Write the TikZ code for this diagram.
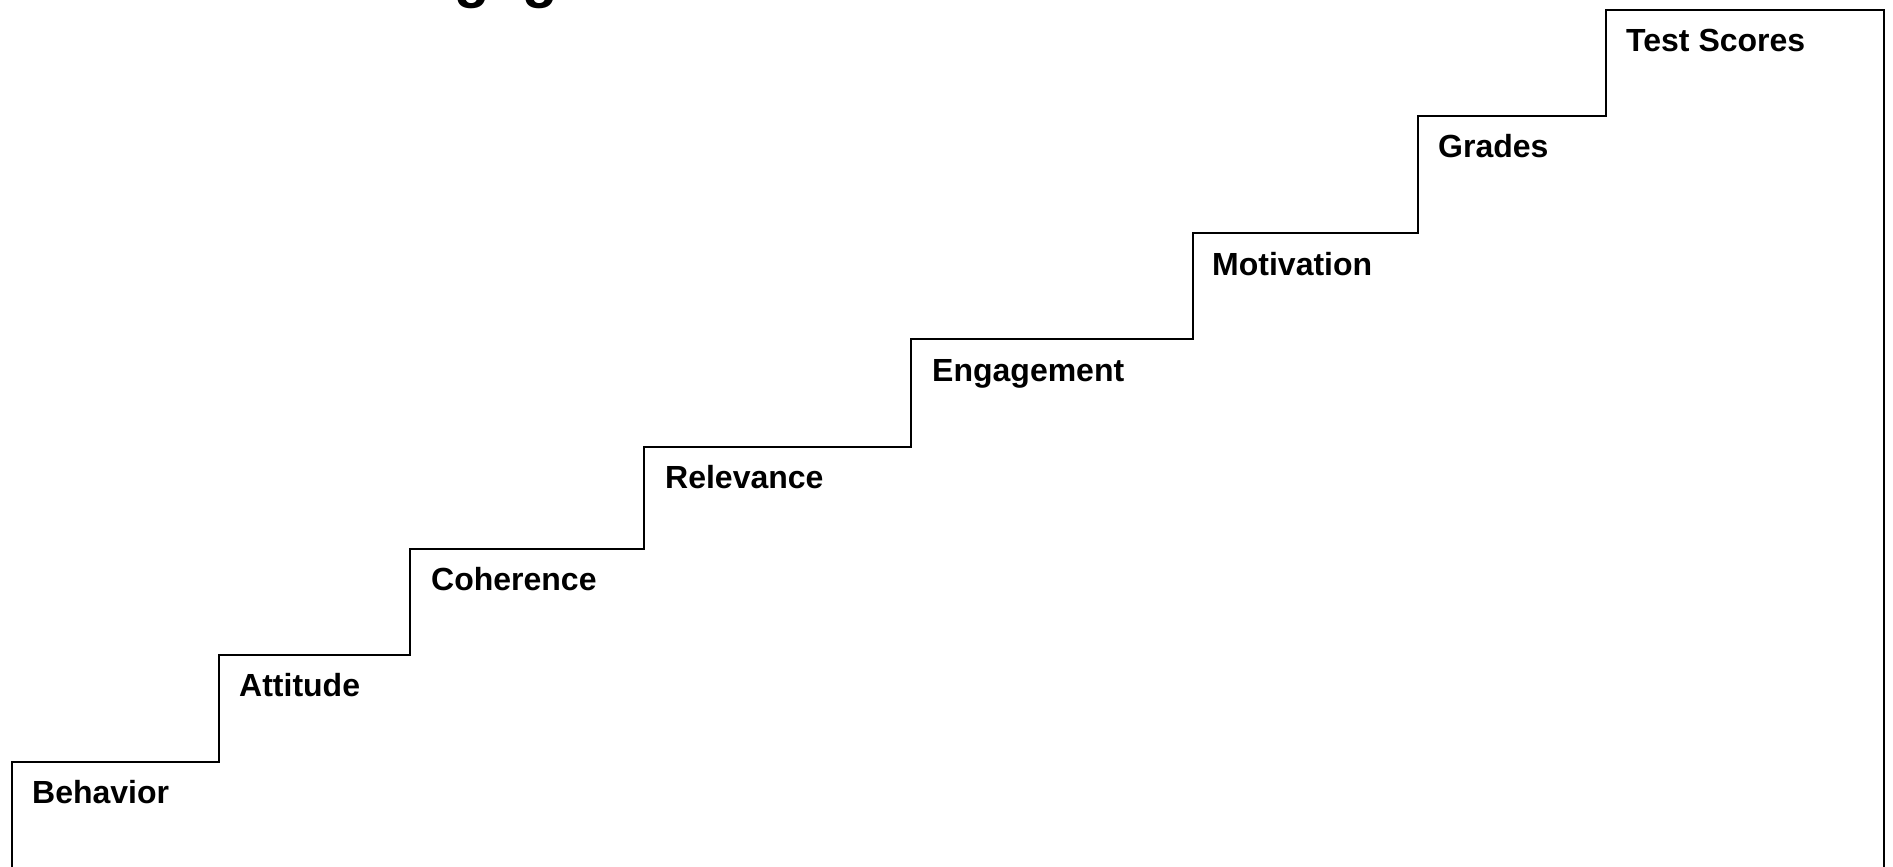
\documentclass[tikz,border=0pt]{standalone}
\usepackage{fontspec}
\setmainfont{Liberation Sans}
\begin{document}
\begin{tikzpicture}[x=1pt,y=-1pt,
  stair/.style={draw=black,line width=2.6pt,line join=miter},
  steplabel/.style={anchor=base west,inner sep=0pt,font=\fontsize{32}{38}\selectfont\bfseries},
  titletext/.style={anchor=base west,inner sep=0pt,font=\fontsize{58}{70}\selectfont\bfseries}]
\useasboundingbox (0,0) rectangle (1893,867);
\begin{scope}
\clip (0,0) rectangle (1893,867);
% corners of the staircase
\coordinate (b0) at (12,875);
\coordinate (s1) at (12,762);
\coordinate (s2) at (219,762);
\coordinate (s3) at (219,655);
\coordinate (s4) at (410,655);
\coordinate (s5) at (410,549);
\coordinate (s6) at (644,549);
\coordinate (s7) at (644,447);
\coordinate (s8) at (911,447);
\coordinate (s9) at (911,339);
\coordinate (s10) at (1193,339);
\coordinate (s11) at (1193,233);
\coordinate (s12) at (1418,233);
\coordinate (s13) at (1418,116);
\coordinate (s14) at (1606,116);
\coordinate (s15) at (1606,10);
\coordinate (s16) at (1884,10);
\coordinate (b1) at (1884,875);
\draw[stair] (b0) -- (s1) -- (s2) -- (s3) -- (s4) -- (s5) -- (s6) -- (s7) -- (s8)
  -- (s9) -- (s10) -- (s11) -- (s12) -- (s13) -- (s14) -- (s15) -- (s16) -- (b1);
% title (cut off at the top edge)
\node[titletext] (title) at (380,-3) {Engagement};
\end{scope}
% labels
\node[steplabel] (behavior) at (32,803) {Behavior};
\node[steplabel] (attitude) at (239,696) {Attitude};
\node[steplabel] (coherence) at (431,590) {Coherence};
\node[steplabel] (relevance) at (665,488) {Relevance};
\node[steplabel] (engagement) at (932,381) {Engagement};
\node[steplabel] (motivation) at (1212,275) {Motivation};
\node[steplabel] (grades) at (1438,157) {Grades};
\node[steplabel] (testscores) at (1626,52) {Test Scores};
\end{tikzpicture}
\end{document}
